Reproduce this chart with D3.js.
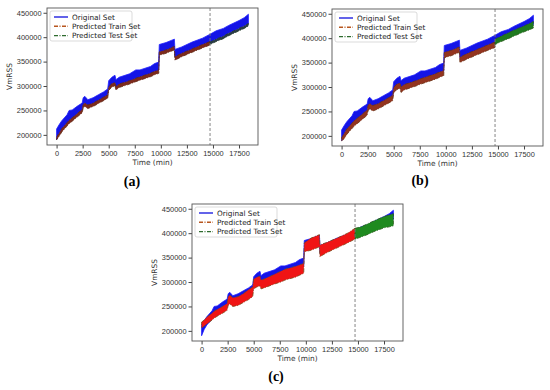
<!DOCTYPE html>
<html>
<head>
<meta charset="utf-8">
<script src="https://cdn.jsdelivr.net/npm/d3@7"></script>
<style>
  body { margin: 0; background: #fff; }
  svg { font-family: "DejaVu Sans", sans-serif; }
  .tick text { font-size: 7.4px; fill: #333; }
  .tick line { stroke: #444; }
  .domain { stroke: none; }
</style>
</head>
<body>
<svg id="fig" width="550" height="390"></svg>
<script>
// time knots (min)
var tOrig = [0, 250, 500, 1000, 1200, 1500, 2000, 2450, 2550, 2700, 3000, 3500, 4000, 4500, 4900,
  5000, 5300, 5600, 5700, 6000, 7000, 7600, 8000, 9000, 9400, 9800, 9850, 10500, 11300, 11350,
  12000, 13000, 14000, 14720, 15300, 16000, 16500, 17500, 18000, 18400];
var tTrain = tOrig.slice(0, 34);
var tTest = [14720, 15300, 16000, 16500, 17500, 18000, 18400];
var splitTime = 14720;

// original VmRSS band (upper / lower envelope)
var origUpper = [212000, 221000, 229000, 241000, 250000, 251000, 259000, 265000, 276000, 279000, 272000,
  276000, 282000, 288000, 294000, 311000, 318000, 322000, 313000, 318000, 325000, 333000, 333000, 340000,
  346000, 349000, 385000, 389000, 396000, 375000, 380000, 390000, 398000, 406000, 413000, 418000, 424000,
  434000, 440000, 447000];
var origLower = [190000, 203000, 212000, 224000, 229000, 234000, 243000, 251000, 261000, 264000, 260000,
  264000, 270000, 276000, 281000, 297000, 304000, 306000, 298000, 303000, 310000, 315000, 318000, 325000,
  329000, 332000, 369000, 373000, 380000, 359000, 366000, 375000, 384000, 390000, 396000, 402000, 408000,
  418000, 423000, 428000];

// panel (a) predictions
var predATrainHi = [195000, 204000, 213000, 225000, 230000, 235000, 244000, 252000, 262000, 265000, 261000,
  265000, 271000, 277000, 282000, 298000, 305000, 307000, 299000, 304000, 311000, 316000, 319000, 326000,
  330000, 333000, 370000, 374000, 381000, 360000, 367000, 376000, 385000, 391000];
var predATrainLo = [190000, 197000, 206000, 218000, 223000, 228000, 237000, 245000, 255000, 258000, 254000,
  258000, 264000, 270000, 275000, 291000, 298000, 300000, 292000, 297000, 304000, 309000, 312000, 319000,
  323000, 326000, 363000, 367000, 374000, 353000, 360000, 369000, 378000, 384000];
var predATestHi = [390000, 396000, 402000, 408000, 418000, 423000, 428000];
var predATestLo = [385000, 391000, 397000, 403000, 413000, 418000, 423000];

// panel (b) predictions
var predBTrainHi = [196000, 205000, 214000, 226000, 231000, 236000, 245000, 253000, 263000, 266000, 262000,
  266000, 272000, 278000, 283000, 299000, 306000, 308000, 300000, 305000, 312000, 317000, 320000, 327000,
  331000, 334000, 371000, 375000, 382000, 361000, 368000, 377000, 386000, 392000];
var predBTrainLo = [190000, 194000, 203000, 215000, 220000, 225000, 234000, 242000, 252000, 255000, 251000,
  255000, 261000, 267000, 272000, 288000, 295000, 297000, 289000, 294000, 301000, 306000, 309000, 316000,
  320000, 323000, 360000, 364000, 371000, 350000, 357000, 366000, 375000, 381000];
var predBTestHi = [398000, 404000, 411000, 416000, 425000, 430000, 434000];
var predBTestLo = [387000, 393000, 399000, 404000, 413000, 417000, 421000];

// panel (c) predictions
var predCTrainHi = [218000, 222000, 228000, 236000, 240000, 244000, 250000, 256000, 270000, 273000, 268000,
  270000, 276000, 284000, 290000, 306000, 310000, 312000, 304000, 306000, 316000, 322000, 326000, 332000,
  335000, 338000, 380000, 390000, 397000, 376000, 381000, 390000, 400000, 410000];
var predCTrainLo = [206000, 210000, 214000, 222000, 226000, 230000, 236000, 242000, 252000, 255000, 250000,
  252000, 258000, 264000, 270000, 286000, 290000, 292000, 286000, 288000, 296000, 300000, 304000, 310000,
  314000, 318000, 362000, 365000, 372000, 352000, 360000, 370000, 380000, 388000];
var predCTestHi = [410000, 413000, 420000, 425000, 434000, 437000, 440000];
var predCTestLo = [388000, 392000, 398000, 403000, 411000, 413000, 415000];

var xTicks = [0, 2500, 5000, 7500, 10000, 12500, 15000, 17500];
var yTicks = [200000, 250000, 300000, 350000, 400000, 450000];
var legendLabels = ["Original Set", "Predicted Train Set", "Predicted Test Set"];

var svg = d3.select("#fig");
var pw = 211, ph = 137;

function band(t, hi, lo) {
  return t.map(function(d, i) { return {t: d, hi: hi[i], lo: lo[i]}; });
}

function panel(opt) {
  var x = d3.scaleLinear().domain([-920, 19320]).range([0, pw]);
  var y = d3.scaleLinear().domain([179250, 459750]).range([ph, 0]);

  var g = svg.append("g")
      .attr("transform", "translate(" + opt.left + "," + opt.top + ")");

  var area = d3.area()
      .x(function(d) { return x(d.t); })
      .y0(function(d) { return y(d.lo); })
      .y1(function(d) { return y(d.hi); });

  g.append("path")
      .datum(band(tOrig, origUpper, origLower))
      .attr("d", area)
      .attr("fill", "#1414e6")
      .attr("stroke", "#2020ff")
      .attr("stroke-width", 0.8);

  g.append("path")
      .datum(band(tTrain, opt.trainHi, opt.trainLo))
      .attr("d", area)
      .attr("fill", opt.trainFill)
      .attr("stroke", opt.trainStroke)
      .attr("stroke-width", 0.8)
      .attr("stroke-dasharray", "4,1.5,1,1.5");

  g.append("path")
      .datum(band(tTest, opt.testHi, opt.testLo))
      .attr("d", area)
      .attr("fill", opt.testFill)
      .attr("stroke", opt.testStroke)
      .attr("stroke-width", 0.8)
      .attr("stroke-dasharray", "4,1.5,1,1.5");

  g.append("line")
      .attr("x1", x(splitTime)).attr("x2", x(splitTime))
      .attr("y1", 0).attr("y2", ph)
      .attr("stroke", "#777")
      .attr("stroke-width", 0.9)
      .attr("stroke-dasharray", "3,2");

  g.append("g")
      .attr("transform", "translate(0," + ph + ")")
      .call(d3.axisBottom(x).tickValues(xTicks).tickFormat(d3.format("d")).tickSize(3.5).tickPadding(2));

  g.append("g")
      .call(d3.axisLeft(y).tickValues(yTicks).tickFormat(d3.format("d")).tickSize(3.5).tickPadding(2));

  g.append("rect")
      .attr("width", pw).attr("height", ph)
      .attr("fill", "none")
      .attr("stroke", "#555")
      .attr("stroke-width", 0.9);

  g.append("text")
      .attr("x", pw / 2).attr("y", ph + 20)
      .attr("text-anchor", "middle")
      .style("font-size", "7.4px").style("fill", "#333")
      .text("Time (min)");

  g.append("text")
      .attr("transform", "translate(-35," + (ph / 2) + ") rotate(-90)")
      .attr("text-anchor", "middle")
      .style("font-size", "7.4px").style("fill", "#333")
      .text("VmRSS");

  // legend
  var lg = g.append("g").attr("transform", "translate(3,3)");
  lg.append("rect")
      .attr("width", 82).attr("height", 30)
      .attr("rx", 2)
      .attr("fill", "#fff").attr("fill-opacity", 0.85)
      .attr("stroke", "#ccc").attr("stroke-width", 0.7);
  var colors = ["#2020e0", "#b8561f", "#2e6b2e"];
  var dashes = [null, "4,1.5,1,1.5", "4,1.5,1,1.5"];
  legendLabels.forEach(function(lab, i) {
    var yy = 6 + i * 9.3;
    lg.append("line")
        .attr("x1", 4).attr("x2", 18)
        .attr("y1", yy).attr("y2", yy)
        .attr("stroke", colors[i])
        .attr("stroke-width", 1.4)
        .attr("stroke-dasharray", dashes[i]);
    lg.append("text")
        .attr("x", 22).attr("y", yy + 2.6)
        .style("font-size", "7.3px").style("fill", "#222")
        .text(lab);
  });

  svg.append("text")
      .attr("x", opt.capX).attr("y", opt.capY)
      .attr("text-anchor", "middle")
      .style("font-family", "'Liberation Serif', serif")
      .style("font-weight", "bold")
      .style("font-size", "14px")
      .text(opt.caption);
}

panel({left: 47, top: 8, caption: "(a)", capX: 132, capY: 186,
  trainHi: predATrainHi, trainLo: predATrainLo, testHi: predATestHi, testLo: predATestLo,
  trainFill: "#7e2a1c", trainStroke: "#5e2a14", testFill: "#2a3a4a", testStroke: "#1e3a1e"});

panel({left: 332, top: 9, caption: "(b)", capX: 420, capY: 185,
  trainHi: predBTrainHi, trainLo: predBTrainLo, testHi: predBTestHi, testLo: predBTestLo,
  trainFill: "#93341f", trainStroke: "#6a3214", testFill: "#1f7a1f", testStroke: "#2a5a1a"});

panel({left: 192, top: 204, caption: "(c)", capX: 276, capY: 381,
  trainHi: predCTrainHi, trainLo: predCTrainLo, testHi: predCTestHi, testLo: predCTestLo,
  trainFill: "#f01414", trainStroke: "#7a4a1a", testFill: "#1f8a1f", testStroke: "#2a5a1a"});
</script>
</body>
</html>
